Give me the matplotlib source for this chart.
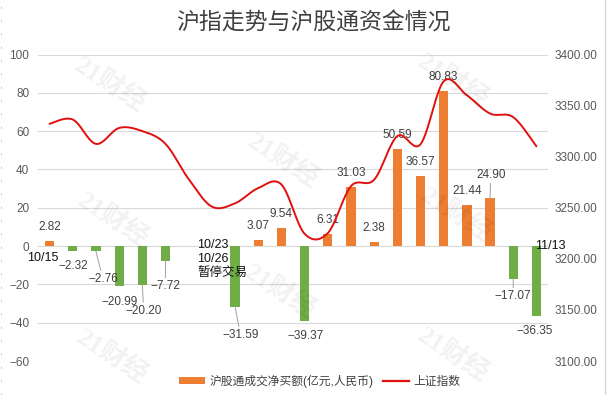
import numpy as np
import matplotlib
matplotlib.use('Agg')
import matplotlib.pyplot as plt
from matplotlib.patches import Patch
from matplotlib.lines import Line2D
from matplotlib.ticker import FormatStrFormatter

plt.rcParams['font.family'] = ['Liberation Sans', 'Noto Sans CJK SC', 'DejaVu Sans']
plt.rcParams['axes.unicode_minus'] = True

# ---------------- data ----------------
dates = ['10/15', '10/16', '10/19', '10/20', '10/21', '10/22', '10/23', '10/26',
         '10/27', '10/28', '10/29', '10/30', '11/02', '11/03', '11/04', '11/05',
         '11/06', '11/09', '11/10', '11/11', '11/12', '11/13']
net_buy = [2.82, -2.32, -2.76, -20.99, -20.20, -7.72, None, None,
           -31.59, 3.07, 9.54, -39.37, 6.31, 31.03, 2.38, 50.59,
           36.57, 80.83, 21.44, 24.90, -17.07, -36.35]
sh_index = [3332.18, 3336.36, 3312.50, 3328.10, 3325.03, 3312.49, 3278.00, 3251.12,
            3254.32, 3269.24, 3272.74, 3224.53, 3225.12, 3271.07, 3277.44, 3320.13,
            3312.16, 3373.73, 3360.15, 3342.20, 3338.68, 3310.10]
left_ticks = [-60, -40, -20, 0, 20, 40, 60, 80, 100]
right_ticks = [3100, 3150, 3200, 3250, 3300, 3350, 3400]
title = '沪指走势与沪股通资金情况'
bar_label = '沪股通成交净买额(亿元,人民币)'
line_label = '上证指数'
suspend_note = '10/23\n10/26\n暂停交易'

# ---------------- style ----------------
ORANGE = '#ED7D31'
GREEN = '#70AD47'
RED = '#E01010'
GRID = '#D9D9D9'
TXT = '#404040'
TICK = '#595959'

W, H = 607, 395
fig = plt.figure(figsize=(W / 100, H / 100), dpi=100)
ax = fig.add_axes([38 / W, 1 - 361 / H, 510 / W, (361 - 54.5) / H])
ax.patch.set_visible(False)
x = np.arange(len(dates))
ax.set_xlim(-0.5, len(dates) - 0.5)
ax.set_ylim(-60, 100)
ax.set_yticks(left_ticks)
ax.set_xticks([])
ax.grid(axis='y', color=GRID, lw=0.8)
ax.set_axisbelow(True)
for s in ax.spines.values():
    s.set_visible(False)
ax.tick_params(axis='y', length=0, labelsize=8.5, labelcolor=TICK, pad=6.3)

# bars
for i, v in enumerate(net_buy):
    if v is None:
        continue
    ax.bar(x[i], v, width=0.4, color=ORANGE if v >= 0 else GREEN, zorder=2)

# data labels (offsets in screen pixels, down positive)
custom = {2: (7, 28), 4: (1.4, 26), 5: (0, 25.5), 8: (5.5, 28.7),
          19: (0.7, -23.7), 20: (0, 17.6), 11: (0.5, 15), 21: (-1.4, 15.3)}
leaders = {2, 4, 5, 8, 19, 20}
for i, v in enumerate(net_buy):
    if v is None:
        continue
    dx, dy = custom.get(i, (0, -14 if v >= 0 else 15.5))
    txt = f'{v:.2f}'.replace('-', '\u2212')
    kw = {}
    if i in leaders:
        kw['arrowprops'] = dict(arrowstyle='-', color='#A6A6A6', lw=0.75,
                                shrinkA=0, shrinkB=0)
    ax.annotate(txt, xy=(x[i], v), xytext=(dx, -dy), textcoords='offset pixels',
                ha='center', va='center', fontsize=8.5, color=TXT, zorder=4, **kw)

# black date notes
ax.annotate(dates[0], xy=(x[0], 0), xytext=(-6.5, -11.5), textcoords='offset pixels',
            ha='center', va='center', fontsize=9, color='#111111')
ax.annotate(dates[-1], xy=(x[-1], 0), xytext=(13.5, 0.5), textcoords='offset pixels',
            ha='center', va='center', fontsize=9, color='#111111', zorder=5)
ax.annotate(suspend_note, xy=(x[6], 0), xytext=(8.3, 7.5), textcoords='offset pixels',
            ha='left', va='top', fontsize=9, color='#111111', linespacing=1.25)

# index line (smoothed)
ax2 = ax.twinx()
ax2.set_ylim(right_ticks[0], right_ticks[-1])
ax2.set_yticks(right_ticks)
ax2.yaxis.set_major_formatter(FormatStrFormatter('%.2f'))
for s in ax2.spines.values():
    s.set_visible(False)
ax2.tick_params(axis='y', length=0, labelsize=8.5, labelcolor=TICK, pad=5)


def smooth(xs, ys, n=24):
    xs = np.asarray(xs, float)
    ys = np.asarray(ys, float)
    N = len(xs)
    P = np.column_stack([xs, ys])
    out = []
    for i in range(N - 1):
        p0 = P[max(i - 1, 0)]
        p1 = P[i]
        p2 = P[i + 1]
        p3 = P[min(i + 2, N - 1)]
        c1 = p1 + (p2 - p0) / 6
        c2 = p2 - (p3 - p1) / 6
        t = np.linspace(0, 1, n, endpoint=(i == N - 2))[:, None]
        seg = ((1 - t) ** 3) * p1 + 3 * ((1 - t) ** 2) * t * c1 + 3 * (1 - t) * t ** 2 * c2 + t ** 3 * p2
        out.append(seg)
    out = np.vstack(out)
    return out[:, 0], out[:, 1]


sx, sy = smooth(x, sh_index)
ax2.plot(sx, sy, color=RED, lw=1.4, solid_capstyle='round', zorder=3)

# title
fig.text(313.5 / W, 1 - 23 / H, title, ha='center', va='center', fontsize=16.5,
         color=TXT, family=['Noto Sans CJK SC', 'DejaVu Sans'])

# legend
handles = [Patch(facecolor=ORANGE, edgecolor='none', label=bar_label),
           Line2D([], [], color=RED, lw=1.6, label=line_label)]
fig.legend(handles=handles, loc='center', bbox_to_anchor=(319.5 / W, 1 - 381 / H),
           ncol=2, frameon=False, fontsize=8.5, handlelength=2.2, handleheight=0.55,
           handletextpad=0.4, columnspacing=0.8, labelcolor=TXT)

# watermark
for (cx, cy) in [(110, 85), (113, 220), (112, 357), (283, 161), (280, 292),
                 (453, 81), (456, 215), (453, 355)]:
    fig.text(cx / W, 1 - cy / H, '21财经', ha='center', va='center', rotation=-33,
             fontsize=19, fontweight='bold', color='#000000', alpha=0.055,
             family=['Liberation Serif', 'Noto Sans CJK SC'], zorder=10)

# border lines at edges
fig.add_artist(Line2D([605 / W, 605 / W], [0, 1], color='#D0D0D0', lw=0.8))
fig.add_artist(Line2D([1 / W, 1 / W], [0, 1], color='#D0D0D0', lw=0.8, ls=(0, (2, 10))))

fig.savefig('out.png', dpi=100)
